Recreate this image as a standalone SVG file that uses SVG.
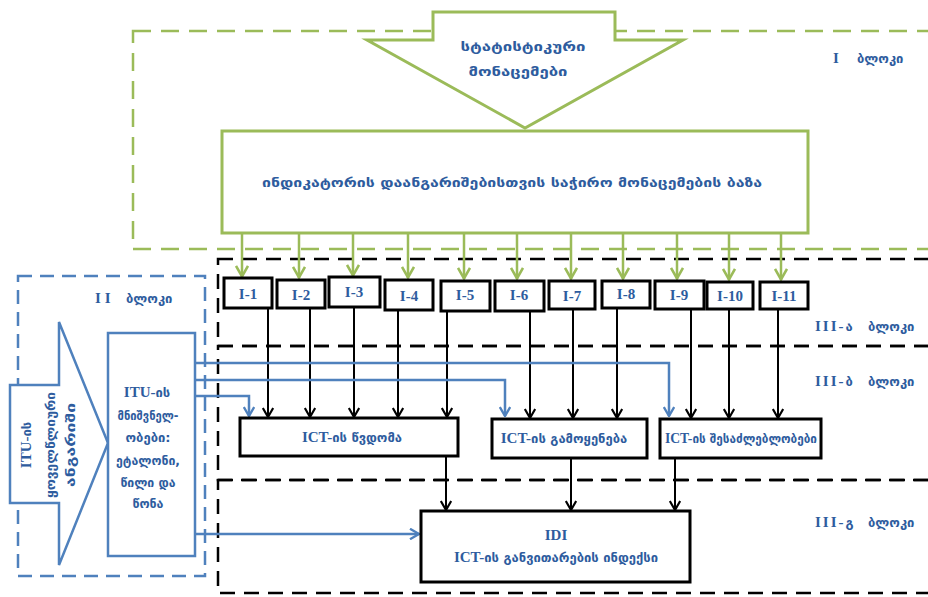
<svg xmlns="http://www.w3.org/2000/svg" width="928" height="597" viewBox="0 0 928 597">
<style>
.gd{fill:none;stroke:#9bbb59;stroke-width:2.5;stroke-dasharray:18 10}
.kd{fill:none;stroke:#000;stroke-width:2.5;stroke-dasharray:15 9}
.bd{fill:none;stroke:#4f81bd;stroke-width:2.5;stroke-dasharray:14 8}
.gs{fill:#fff;stroke:#9bbb59;stroke-width:3}
.bs{fill:#fff;stroke:#4f81bd;stroke-width:2.5}
.box{fill:#fff;stroke:#000;stroke-width:3}
.ga{fill:none;stroke:#9bbb59;stroke-width:2.5;marker-end:url(#mg)}
.ka{fill:none;stroke:#000;stroke-width:2;marker-end:url(#mk)}
.ba{fill:none;stroke:#4f81bd;stroke-width:2.5;marker-end:url(#mb)}
.t{font-family:"DejaVu Sans","Noto Sans",sans-serif;font-weight:bold;fill:#2e5c9e;font-size:13px}
.s{font-family:"Liberation Serif","DejaVu Sans",serif;font-weight:bold;fill:#2e5c9e;font-size:15px}
.m{text-anchor:middle}
</style>
<defs>
<marker id="mk" viewBox="0 0 12 12" refX="11" refY="6" markerWidth="12" markerHeight="12" markerUnits="userSpaceOnUse" orient="auto"><path d="M2,0.8 L11,6 L2,11.2" fill="none" stroke="#000" stroke-width="2.2"/></marker>
<marker id="mg" viewBox="0 0 14 14" refX="13" refY="7" markerWidth="14" markerHeight="14" markerUnits="userSpaceOnUse" orient="auto"><path d="M2,1 L12.5,7 L2,13" fill="none" stroke="#9bbb59" stroke-width="2.6"/></marker>
<marker id="mb" viewBox="0 0 12 12" refX="11" refY="6" markerWidth="12" markerHeight="12" markerUnits="userSpaceOnUse" orient="auto"><path d="M2,0.8 L11,6 L2,11.2" fill="none" stroke="#4f81bd" stroke-width="2.4"/></marker>
</defs>
<rect width="928" height="597" fill="#fff"/>

<g id="block-I">
<rect class="gd" x="133" y="31" width="810" height="218"/>
<text class="t" x="833" y="63"><tspan class="s" font-size="14">I</tspan><tspan x="857">ბლოკი</tspan></text>
</g>
<g id="block-IIIa">
<rect class="kd" x="218" y="259" width="720" height="87"/>
<text class="t" x="815" y="331"><tspan class="s" font-size="14" letter-spacing="2">III-</tspan>ა <tspan x="868">ბლოკი</tspan></text>
</g>
<g id="block-IIIb">
<rect class="kd" x="218" y="346" width="720" height="134"/>
<text class="t" x="815" y="386"><tspan class="s" font-size="14" letter-spacing="2">III-</tspan>ბ <tspan x="868">ბლოკი</tspan></text>
</g>
<g id="block-IIIg">
<rect class="kd" x="218" y="480" width="720" height="113"/>
<text class="t" x="815" y="527"><tspan class="s" font-size="14" letter-spacing="2">III-</tspan>გ <tspan x="868">ბლოკი</tspan></text>
</g>
<g id="block-II">
<rect class="bd" x="18" y="276" width="187" height="300"/>
<text class="t" x="95" y="303"><tspan class="s" font-size="14" letter-spacing="4">II</tspan><tspan x="126">ბლოკი</tspan></text>
</g>

<g id="stat-data">
<polygon class="gs" points="433,12 615,12 615,40 683,40 525,128 367,40 433,40"/>
<text class="t m" x="523" y="51" textLength="125" lengthAdjust="spacingAndGlyphs">სტატისტიკური</text>
<text class="t m" x="518" y="76" textLength="99" lengthAdjust="spacingAndGlyphs">მონაცემები</text>
</g>

<g id="database">
<rect class="gs" x="222" y="131" width="586" height="102"/>
<text class="t m" x="512" y="187" font-size="14" textLength="500" lengthAdjust="spacingAndGlyphs">ინდიკატორის   დაანგარიშებისთვის საჭირო   მონაცემების ბაზა</text>
</g>

<g id="itu-guide">
<polygon class="bs" points="10,385 59,385 59,322 108,443 59,565 59,503 10,503"/>
<text class="t m" transform="translate(31,445) rotate(-90)"><tspan class="s" font-size="14">ITU-</tspan>ის</text>
<text class="t m" transform="translate(55,445) rotate(-90)" textLength="106" lengthAdjust="spacingAndGlyphs">ყოველწლიური</text>
<text class="t m" transform="translate(75,445) rotate(-90)" textLength="84" lengthAdjust="spacingAndGlyphs">ანგარიში</text>
</g>

<g id="itu-values">
<rect class="bs" x="108" y="333" width="87" height="223"/>
<text class="t m" x="147" y="397"><tspan class="s" font-size="15">ITU-</tspan>ის</text>
<text class="t m" x="148" y="420" textLength="61" lengthAdjust="spacingAndGlyphs">მნიშვნელ-</text>
<text class="t m" x="148" y="442" textLength="45" lengthAdjust="spacingAndGlyphs">ობები:</text>
<text class="t m" x="148" y="465" textLength="64" lengthAdjust="spacingAndGlyphs">ეტალონი,</text>
<text class="t m" x="148" y="487" textLength="55" lengthAdjust="spacingAndGlyphs">წილი და</text>
<text class="t m" x="148" y="508" textLength="31" lengthAdjust="spacingAndGlyphs">წონა</text>
</g>

<g id="connectors">
<path class="ga" d="M242,233V277"/>
<path class="ga" d="M299,233V278"/>
<path class="ga" d="M353,233V276"/>
<path class="ga" d="M408,233V278"/>
<path class="ga" d="M464,233V279"/>
<path class="ga" d="M517,233V279"/>
<path class="ga" d="M571,233V279"/>
<path class="ga" d="M623,233V279"/>
<path class="ga" d="M677,233V279"/>
<path class="ga" d="M729,233V280"/>
<path class="ga" d="M781,233V280"/>

<path class="ka" d="M268,308V417"/>
<path class="ka" d="M310,308V417"/>
<path class="ka" d="M354,307V417"/>
<path class="ka" d="M398,310V417"/>
<path class="ka" d="M447,311V417"/>
<path class="ka" d="M530,311V418"/>
<path class="ka" d="M573,309V418"/>
<path class="ka" d="M617,308V418"/>
<path class="ka" d="M691,309V418"/>
<path class="ka" d="M729,309V418"/>
<path class="ka" d="M778,309V418"/>

<path class="ka" d="M446,456V510"/>
<path class="ka" d="M571,458V510"/>
<path class="ka" d="M675,458V510"/>

<path class="ba" d="M195,363H669V416"/>
<path class="ba" d="M195,380H505V416"/>
<path class="ba" d="M195,396H249V416"/>
<path class="ba" d="M195,534H419"/>
</g>

<g id="I-1"><rect class="box" x="224" y="278" width="48" height="30"/><text class="s m" x="248" y="299">I-1</text></g>
<g id="I-2"><rect class="box" x="277" y="280" width="48" height="28"/><text class="s m" x="301" y="300">I-2</text></g>
<g id="I-3"><rect class="box" x="329" y="277" width="51" height="30"/><text class="s m" x="354" y="297">I-3</text></g>
<g id="I-4"><rect class="box" x="385" y="280" width="48" height="30"/><text class="s m" x="409" y="301">I-4</text></g>
<g id="I-5"><rect class="box" x="441" y="281" width="49" height="30"/><text class="s m" x="465" y="300">I-5</text></g>
<g id="I-6"><rect class="box" x="495" y="281" width="49" height="30"/><text class="s m" x="519" y="300">I-6</text></g>
<g id="I-7"><rect class="box" x="549" y="281" width="46" height="28"/><text class="s m" x="572" y="301">I-7</text></g>
<g id="I-8"><rect class="box" x="602" y="281" width="48" height="27"/><text class="s m" x="626" y="299">I-8</text></g>
<g id="I-9"><rect class="box" x="655" y="281" width="49" height="28"/><text class="s m" x="679" y="300">I-9</text></g>
<g id="I-10"><rect class="box" x="707" y="282" width="46" height="27"/><text class="s m" x="730" y="301">I-10</text></g>
<g id="I-11"><rect class="box" x="760" y="282" width="48" height="27"/><text class="s m" x="784" y="301">I-11</text></g>

<g id="ict-access"><rect class="box" x="240" y="418" width="218" height="38"/><text class="t m" x="352" y="442"><tspan class="s" font-size="14">ICT-</tspan>ის წვდომა</text></g>
<g id="ict-use"><rect class="box" x="492" y="419" width="155" height="39"/><text class="t m" x="564" y="443"><tspan class="s" font-size="14">ICT-</tspan>ის გამოყენება</text></g>
<g id="ict-skills"><rect class="box" x="660" y="419" width="161" height="39"/><text class="t m" x="741" y="443" textLength="152" lengthAdjust="spacingAndGlyphs"><tspan class="s" font-size="14">ICT-</tspan>ის შესაძლებლობები</text></g>
<g id="idi"><rect class="box" x="421" y="511" width="269" height="71"/>
<text class="s m" x="556" y="540">IDI</text>
<text class="t m" x="556" y="562" font-size="12.5"><tspan class="s" font-size="14">ICT-</tspan>ის განვითარების ინდექსი</text></g>
</svg>
